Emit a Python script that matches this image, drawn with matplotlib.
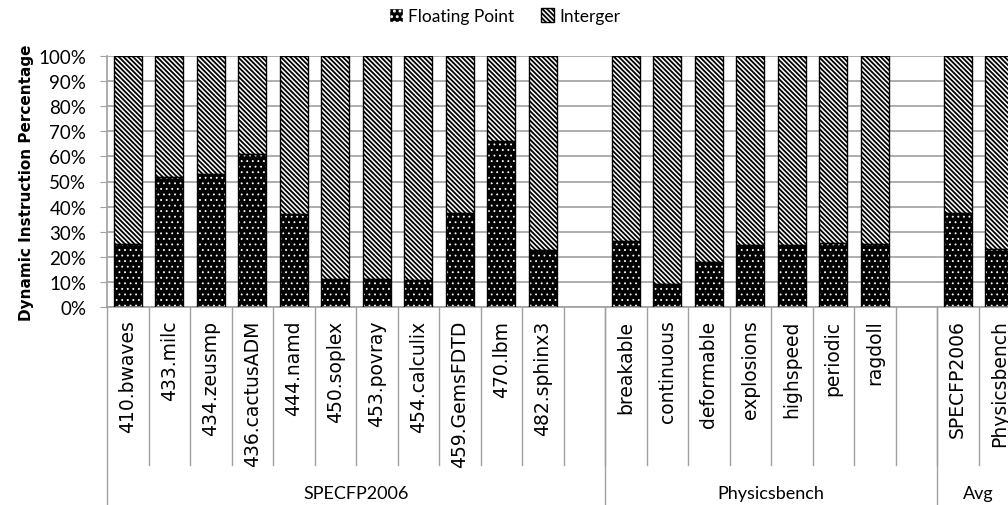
import matplotlib
matplotlib.use("Agg")
import matplotlib.pyplot as plt
import matplotlib.transforms as mtransforms
from matplotlib.patches import Patch
import numpy as np

# data (percent of dynamic instructions that are floating point)
spec_names = ["410.bwaves", "433.milc", "434.zeusmp", "436.cactusADM", "444.namd",
              "450.soplex", "453.povray", "454.calculix", "459.GemsFDTD", "470.lbm",
              "482.sphinx3"]
spec_fp = [25.2, 51.8, 53.1, 61.1, 36.9, 11.0, 11.3, 10.6, 37.6, 66.0, 22.8]

phys_names = ["breakable", "continuous", "deformable", "explosions", "highspeed",
              "periodic", "ragdoll"]
phys_fp = [26.2, 9.3, 17.8, 24.8, 24.8, 25.6, 25.0]

avg_names = ["SPECFP2006", "Physicsbench"]
avg_fp = [37.6, 23.2]

groups = ["SPECFP2006", "Physicsbench", "Avg"]
group_slots = [12, 8, 2]   # each group keeps one empty slot after it (except last)

DOTS = "..."
STRIPES = "\\" * 7

names = spec_names + phys_names + avg_names
fp = np.array(spec_fp + phys_fp + avg_fp)
integer = 100 - fp
x = np.array(list(range(0, 11)) + list(range(12, 19)) + [20, 21])
nslots = sum(group_slots)

fig = plt.figure(figsize=(10.08, 5.06), dpi=100)
ax = fig.add_axes([107 / 1008, 198 / 506, nslots * 41.5 / 1008, 251 / 506])

w = 0.67
plt.rcParams["hatch.linewidth"] = 0.6
ax.bar(x, fp, w, color="black", edgecolor="white", hatch=DOTS, lw=0, zorder=2)
ax.bar(x, fp, w, fill=False, edgecolor="black", lw=1, zorder=3)
plt.rcParams["hatch.linewidth"] = 1.3
ax.bar(x, integer, w, bottom=fp, color="white", edgecolor="black", hatch=STRIPES,
       lw=1, zorder=2)

ax.set_xlim(-0.5, nslots - 0.5)
ax.set_ylim(0, 100)
ax.set_yticks(np.arange(0, 101, 10))
ax.set_yticklabels(["%d%%" % v for v in range(0, 101, 10)], family="Lato", fontsize=13.5)
ax.yaxis.grid(True, color="#a0a0a0", lw=1.2, zorder=0)
ax.set_axisbelow(True)
ax.tick_params(axis="y", length=5, color="#a0a0a0", pad=10)
ax.set_xticks([])
for s in ["top", "right"]:
    ax.spines[s].set_visible(False)
for s in ["left", "bottom"]:
    ax.spines[s].set_color("#a0a0a0")
    ax.spines[s].set_linewidth(1.2)

ax.set_ylabel("Dynamic Instruction Percentage", fontsize=11, fontweight="bold", labelpad=3)

# category labels and separators under the axis
trans = mtransforms.blended_transform_factory(ax.transData, ax.transAxes)
for xi, nm in zip(x, names):
    ax.text(xi, -0.05, nm, rotation=90, ha="center", va="top", fontsize=13.5,
            transform=trans)
for b in range(1, nslots):
    ax.plot([b - 0.5, b - 0.5], [0, -0.63], color="#a0a0a0", lw=1, transform=trans,
            clip_on=False)
start = 0
edges = [-0.5]
for g, n in zip(groups, group_slots):
    edges.append(start + n - 0.5)
    ax.text(start - 0.5 + n / 2, -0.74, g, ha="center", va="center", family="Lato",
            fontsize=13, transform=trans)
    start += n
for e in edges:
    ax.plot([e, e], [0, -0.8], color="#a0a0a0", lw=1, transform=trans, clip_on=False)

plt.rcParams["hatch.linewidth"] = 0.6
h_fp = Patch(facecolor="black", edgecolor="white", hatch=DOTS)
plt.rcParams["hatch.linewidth"] = 1.3
h_int = Patch(facecolor="white", edgecolor="black", hatch=STRIPES)
fig.legend([h_fp, h_int], ["Floating Point", "Interger"], loc="center", ncol=2,
           bbox_to_anchor=(505 / 1008, 1 - 17 / 506), frameon=False,
           prop={"family": "Lato", "size": 12.5}, handlelength=0.8, handleheight=0.8,
           handletextpad=0.3, columnspacing=1.5)

fig.savefig("out.png", dpi=100)
